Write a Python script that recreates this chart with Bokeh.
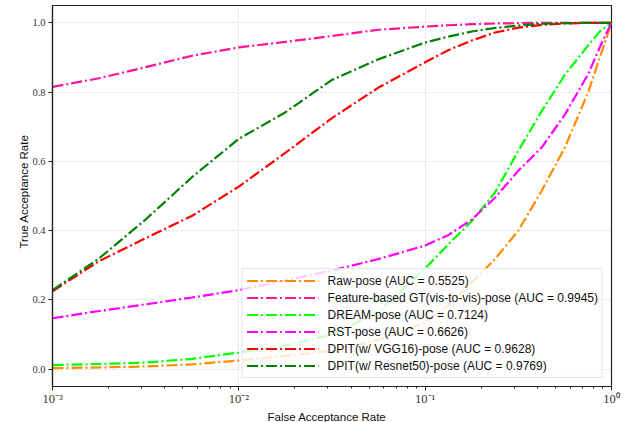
import math
from bokeh.plotting import figure
from bokeh.models import (FixedTicker, CustomJSTickFormatter, PrintfTickFormatter,
                          Legend, LegendItem, Title, Range1d)
from bokeh.embed import file_html
from bokeh.resources import INLINE

# False acceptance rate (shared x samples)
far = [0.001, 0.00178, 0.00316, 0.00562, 0.01, 0.0178, 0.0316, 0.0562, 0.1,
       0.133, 0.178, 0.237, 0.316, 0.422, 0.562, 0.75, 0.866, 1.0]

# True acceptance rate per method
raw_pose = [0.003, 0.005, 0.008, 0.014, 0.025, 0.038, 0.053, 0.085, 0.135,
            0.185, 0.250, 0.318, 0.400, 0.515, 0.640, 0.800, 0.900, 1.0]
gt_pose = [0.815, 0.840, 0.872, 0.905, 0.929, 0.945, 0.962, 0.980, 0.989,
           0.993, 0.996, 0.998, 0.999, 1.0, 1.0, 1.0, 1.0, 1.0]
dream_pose = [0.012, 0.015, 0.019, 0.030, 0.048, 0.068, 0.100, 0.165, 0.291,
              0.360, 0.428, 0.510, 0.630, 0.745, 0.850, 0.935, 0.975, 1.0]
rst_pose = [0.147, 0.168, 0.187, 0.207, 0.228, 0.256, 0.285, 0.318, 0.357,
            0.387, 0.432, 0.495, 0.573, 0.640, 0.735, 0.852, 0.930, 1.0]
vgg_pose = [0.225, 0.312, 0.378, 0.443, 0.527, 0.625, 0.725, 0.813, 0.886,
            0.921, 0.949, 0.972, 0.986, 0.994, 0.998, 1.0, 1.0, 1.0]
resnet_pose = [0.228, 0.320, 0.432, 0.555, 0.665, 0.742, 0.835, 0.895, 0.943,
               0.960, 0.975, 0.985, 0.992, 0.997, 0.999, 1.0, 1.0, 1.0]

labels = ["Raw-pose (AUC = 0.5525)",
          "Feature-based GT(vis-to-vis)-pose (AUC = 0.9945)",
          "DREAM-pose (AUC = 0.7124)",
          "RST-pose (AUC = 0.6626)",
          "DPIT(w/ VGG16)-pose (AUC = 0.9628)",
          "DPIT(w/ Resnet50)-pose (AUC = 0.9769)"]
series = [raw_pose, gt_pose, dream_pose, rst_pose, vgg_pose, resnet_pose]
colors = ["#ff8c00", "#ff1493", "#00ff00", "#ff00ff", "#ff0000", "#008000"]

x_major = [0.001, 0.01, 0.1, 1.0]
y_major = [0.0, 0.2, 0.4, 0.6, 0.8, 1.0]

p = figure(width=626, height=422, x_axis_type="log",
           x_range=Range1d(0.001, 1.0), y_range=Range1d(-0.05, 1.05),
           output_backend="svg", toolbar_location=None,
           min_border_left=52, min_border_right=15, min_border_top=5,
           min_border_bottom=36)
p.background_fill_color = "white"
p.border_fill_color = "white"
p.outline_line_color = "#222222"
p.outline_line_width = 1.2

minor = [m * 10 ** e for e in (-3, -2, -1) for m in range(2, 10)]
p.xaxis.ticker = FixedTicker(ticks=x_major, minor_ticks=minor)
p.yaxis.ticker = FixedTicker(ticks=y_major, minor_ticks=[])
p.xaxis.formatter = CustomJSTickFormatter(code="""
const e = Math.round(Math.log10(tick));
const sup = {'-':'\u207b','0':'\u2070','1':'\u00b9','2':'\u00b2','3':'\u00b3'};
return '10' + String(e).split('').map(c => sup[c]).join('');
""")
p.yaxis.formatter = PrintfTickFormatter(format="%.1f")

for ax in (p.xaxis[0], p.yaxis[0]):
    ax.axis_line_color = "#222222"
    ax.axis_line_width = 1.2
    ax.major_tick_line_color = "#222222"
    ax.minor_tick_line_color = "#222222"
    ax.major_tick_out = 4
    ax.major_tick_in = 0
    ax.minor_tick_out = 2
    ax.minor_tick_in = 0
    ax.major_label_text_font = "Liberation Serif"
    ax.major_label_text_color = "#333333"
    ax.major_label_standoff = 3
p.xaxis.major_label_text_font_size = "12.5px"
p.yaxis.major_label_text_font_size = "10.5px"
p.xaxis.major_label_standoff = 1

p.xgrid.ticker = FixedTicker(ticks=x_major)
p.ygrid.ticker = FixedTicker(ticks=y_major)
for g in (p.xgrid[0], p.ygrid[0]):
    g.grid_line_color = "#cfcfcf"
    g.grid_line_dash = "2 2"
    g.grid_line_width = 0.8

items = []
for lab, ys, col in zip(labels, series, colors):
    r = p.line(far, ys, line_color=col, line_width=2.2, line_dash="11 3 2 3")
    items.append(LegendItem(label=lab, renderers=[r]))

legend = Legend(items=items, location="bottom_right", margin=8,
                padding=4, spacing=2, glyph_width=72, glyph_height=15,
                label_height=15, label_standoff=9,
                label_text_font="Liberation Sans", label_text_font_size="12px",
                label_text_color="#111111",
                border_line_color="#cccccc", border_line_width=1,
                background_fill_color="white", background_fill_alpha=0.8)
p.add_layout(legend)

p.add_layout(Title(text="False Acceptance Rate", align="left", offset=215,
                   standoff=0, text_font="Liberation Sans",
                   text_font_size="11.5px", text_font_style="normal",
                   text_color="#111111"), "below")
p.add_layout(Title(text="True Acceptance Rate", align="left", offset=138,
                   standoff=0, text_font="Liberation Sans",
                   text_font_size="11.5px", text_font_style="normal",
                   text_color="#111111"), "left")

open("out.html", "w").write(file_html(p, INLINE))
